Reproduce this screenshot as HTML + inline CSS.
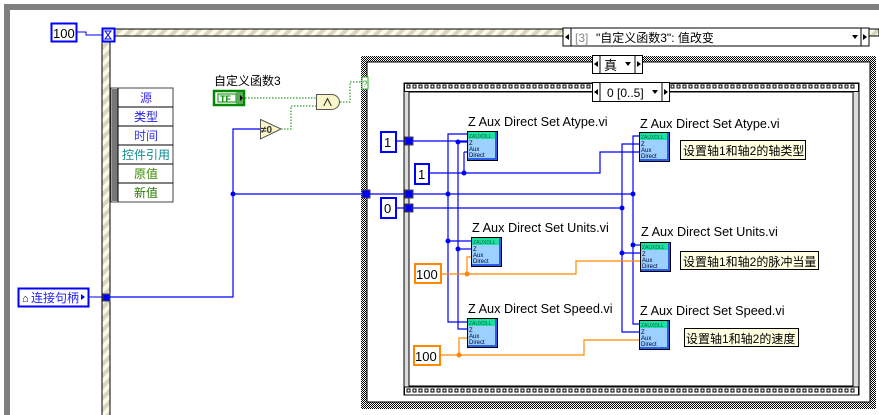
<!DOCTYPE html>
<html><head><meta charset="utf-8"><style>
html,body{margin:0;padding:0;background:#fff;width:879px;height:415px;overflow:hidden}
svg{display:block}
text{font-family:"Liberation Sans","Noto Sans CJK SC",sans-serif}
</style></head><body>
<svg width="879" height="415" viewBox="0 0 879 415" xmlns="http://www.w3.org/2000/svg">
<defs>
<pattern id="chk" width="2" height="2" patternUnits="userSpaceOnUse"><rect width="2" height="2" fill="#fff"/><rect width="1" height="1" fill="#000"/><rect x="1" y="1" width="1" height="1" fill="#000"/></pattern>
<pattern id="hat" width="8" height="8" patternUnits="userSpaceOnUse" patternTransform="rotate(-45)"><rect width="8" height="8" fill="#fbfbe6"/><rect width="8" height="4" fill="#d8d6c0"/></pattern>
<g id="vi">
<rect x="0" y="0" width="31" height="30" fill="#000"/>
<rect x="1" y="1" width="29" height="28" fill="#2a5cf0"/>
<rect x="1" y="1" width="27" height="26" fill="#9cd0ff"/>
<rect x="1" y="1" width="27" height="7" fill="#20e0a0"/>
<text x="2" y="7" font-size="5" fill="#064" font-family="Liberation Mono">ZAUXDLL</text>
<text x="2" y="14" font-size="6" fill="#003" font-family="Liberation Mono">Z</text>
<text x="2" y="20" font-size="6" fill="#003" font-family="Liberation Mono">Aux</text>
<text x="2" y="26" font-size="6" fill="#003" font-family="Liberation Mono">Direct</text>
</g>
<path id="sq" d="M407 85h3v3h-3zM413 85h3v3h-3zM419 85h3v3h-3zM425 85h3v3h-3zM431 85h3v3h-3zM437 85h3v3h-3zM443 85h3v3h-3zM449 85h3v3h-3zM455 85h3v3h-3zM461 85h3v3h-3zM467 85h3v3h-3zM473 85h3v3h-3zM479 85h3v3h-3zM485 85h3v3h-3zM491 85h3v3h-3zM497 85h3v3h-3zM503 85h3v3h-3zM509 85h3v3h-3zM515 85h3v3h-3zM521 85h3v3h-3zM527 85h3v3h-3zM533 85h3v3h-3zM539 85h3v3h-3zM545 85h3v3h-3zM551 85h3v3h-3zM557 85h3v3h-3zM563 85h3v3h-3zM569 85h3v3h-3zM575 85h3v3h-3zM581 85h3v3h-3zM587 85h3v3h-3zM593 85h3v3h-3zM599 85h3v3h-3zM605 85h3v3h-3zM611 85h3v3h-3zM617 85h3v3h-3zM623 85h3v3h-3zM629 85h3v3h-3zM635 85h3v3h-3zM641 85h3v3h-3zM647 85h3v3h-3zM653 85h3v3h-3zM659 85h3v3h-3zM665 85h3v3h-3zM671 85h3v3h-3zM677 85h3v3h-3zM683 85h3v3h-3zM689 85h3v3h-3zM695 85h3v3h-3zM701 85h3v3h-3zM707 85h3v3h-3zM713 85h3v3h-3zM719 85h3v3h-3zM725 85h3v3h-3zM731 85h3v3h-3zM737 85h3v3h-3zM743 85h3v3h-3zM749 85h3v3h-3zM755 85h3v3h-3zM761 85h3v3h-3zM767 85h3v3h-3zM773 85h3v3h-3zM779 85h3v3h-3zM785 85h3v3h-3zM791 85h3v3h-3zM797 85h3v3h-3zM803 85h3v3h-3zM809 85h3v3h-3zM815 85h3v3h-3zM821 85h3v3h-3zM827 85h3v3h-3zM833 85h3v3h-3zM839 85h3v3h-3zM845 85h3v3h-3zM851 85h3v3h-3z"/>
</defs>
<rect x="4" y="4" width="875" height="6" fill="#808080"/>
<rect x="4" y="4" width="6" height="411" fill="#808080"/>
<rect x="102" y="29" width="777" height="7" fill="url(#hat)" stroke="#000" stroke-width="1"/>
<rect x="102" y="29" width="8" height="390" fill="url(#hat)" stroke="#000" stroke-width="1"/>
<rect x="563" y="28" width="306" height="18" fill="#fff" stroke="#000"/>
<line x1="571" y1="28" x2="571" y2="46" stroke="#000"/>
<line x1="861" y1="28" x2="861" y2="46" stroke="#000"/>
<polygon points="565,37 569,34 569,40" fill="#000"/>
<polygon points="863,34 867,37 863,40" fill="#000"/>
<polygon points="852,35 858,35 855,39" fill="#000"/>
<text x="575" y="42" font-size="12" fill="#888">[3]</text>
<text x="596" y="42" font-size="12" fill="#000">"自定义函数3": 值改变</text>
<rect x="51.5" y="23.5" width="25" height="18" fill="#fff" stroke="#00f" stroke-width="2"/>
<text x="53" y="38" font-size="13" fill="#000">100</text>
<polyline points="77,32 86,32 86,35 102,35" fill="none" stroke="#00f"/>
<rect x="102.5" y="28.5" width="12" height="13" fill="#fff" stroke="#00f" stroke-width="2"/>
<path d="M105 31 h6 l-6 8 h6 z" fill="none" stroke="#00f"/>
<rect x="111" y="88" width="62" height="114" fill="#fff" stroke="#444"/>
<rect x="112" y="89" width="6" height="112" fill="#777"/>
<g stroke="#000"><line x1="118" y1="88" x2="118" y2="202"/>
<line x1="118" y1="107" x2="173" y2="107"/><line x1="118" y1="126" x2="173" y2="126"/><line x1="118" y1="145" x2="173" y2="145"/><line x1="118" y1="164" x2="173" y2="164"/><line x1="118" y1="183" x2="173" y2="183"/></g>
<g font-size="12" text-anchor="middle">
<text x="146" y="102" fill="#3a2cf0">源</text>
<text x="146" y="121" fill="#2020e0">类型</text>
<text x="146" y="140" fill="#3030ff">时间</text>
<text x="146" y="159" fill="#108890">控件引用</text>
<text x="146" y="178" fill="#3a8a00">原值</text>
<text x="146" y="197" fill="#2a7a00">新值</text>
</g>
<rect x="18.5" y="288.5" width="70" height="18" fill="#fff" stroke="#00f" stroke-width="2"/>
<text x="22" y="302" font-size="11" fill="#000">⌂</text>
<text x="31" y="302" font-size="12" fill="#22f">连接句柄</text>
<polygon points="81,294 85,297 81,300" fill="#00f"/>
<line x1="89" y1="297" x2="103" y2="297" stroke="#00f"/>
<rect x="103" y="294" width="7" height="7" fill="#00f" stroke="#444"/>
<g stroke="#00f" fill="none" stroke-width="1.2">
<polyline points="110,297 233,297 233,129 260,129"/>
<line x1="233" y1="194" x2="366" y2="194"/>
</g>
<circle cx="233" cy="194" r="2.5" fill="#00f"/>
<text x="214" y="85" font-size="12" fill="#000">自定义函数3</text>
<rect x="214" y="91" width="30" height="14" fill="#fff" stroke="#080" stroke-width="2.5"/>
<rect x="218" y="94" width="18" height="8" fill="none" stroke="#080"/>
<text x="220" y="102" font-size="9" font-weight="bold" fill="#080">TF</text>
<rect x="236" y="92" width="7" height="12" fill="#5a5"/>
<polygon points="240,95 243,98 240,101" fill="#000"/>
<g stroke="#080" fill="none" stroke-dasharray="1.5,1.5">
<line x1="245" y1="98" x2="316" y2="98"/>
<polyline points="281,129 291,129 291,106 316,106"/>
<polyline points="340,102 350,102 350,82 362,82"/>
</g>
<path d="M316.5 94.5 h15 a8 7.5 0 0 1 0 15 h-15 z" fill="#fbf6c8" stroke="#555"/>
<text x="322" y="106" font-size="11" font-weight="bold" fill="#333">∧</text>
<polygon points="260.5,119.5 281,129 260.5,139" fill="#fbf6c8" stroke="#555"/>
<text x="261" y="133" font-size="10" font-weight="bold" fill="#333">≠0</text>
<rect x="361" y="56" width="515" height="353" fill="url(#chk)"/>
<rect x="367" y="62" width="503" height="340" fill="#fff" stroke="#000"/>
<rect x="362" y="77" width="6" height="12" fill="#fff" stroke="#3a3"/>
<text x="362.5" y="87" font-size="9" fill="#3a3">?</text>
<rect x="592.5" y="55.5" width="50" height="18" fill="#fff" stroke="#000"/>
<line x1="600" y1="56" x2="600" y2="73" stroke="#000"/><line x1="635" y1="56" x2="635" y2="73" stroke="#000"/>
<polygon points="594,64 598,61 598,67" fill="#000"/><polygon points="637,61 641,64 637,67" fill="#000"/>
<polygon points="625,62 631,62 628,66" fill="#000"/>
<text x="604" y="70" font-size="13" fill="#000">真</text>
<rect x="362" y="190" width="8" height="8" fill="#00f" stroke="#444"/>
<rect x="404" y="83" width="455" height="312" fill="#ddd" stroke="#000"/>
<rect x="404.5" y="83.5" width="454" height="8" fill="#fff" stroke="#000"/>
<rect x="404.5" y="387" width="454" height="8" fill="#fff" stroke="#000"/>
<use href="#sq" fill="#fff" stroke="#000"/>
<use href="#sq" fill="#fff" stroke="#000" transform="translate(0,304)"/>
<rect x="409" y="92" width="444" height="294" fill="#fff" stroke="#000"/>
<rect x="592.5" y="82.5" width="77" height="19" fill="#fff" stroke="#000"/>
<line x1="600" y1="83" x2="600" y2="101" stroke="#000"/><line x1="662" y1="83" x2="662" y2="101" stroke="#000"/>
<polygon points="594,92 598,89 598,95" fill="#000"/><polygon points="664,89 668,92 664,95" fill="#000"/>
<polygon points="652,90 658,90 655,94" fill="#000"/>
<text x="607" y="97" font-size="12" fill="#000">0 [0..5]</text>
<g font-size="13" fill="#000">
<rect x="381" y="132" width="15" height="20" fill="#fff" stroke="#00f" stroke-width="2"/><text x="384" y="147">1</text>
<rect x="415" y="164" width="14" height="20" fill="#fff" stroke="#00f" stroke-width="2"/><text x="418" y="179">1</text>
<rect x="381" y="198" width="15" height="20" fill="#fff" stroke="#00f" stroke-width="2"/><text x="384" y="213">0</text>
<rect x="415" y="264" width="26" height="19" fill="#fff" stroke="#f80" stroke-width="2"/><text x="416" y="279">100</text>
<rect x="414" y="346" width="26" height="19" fill="#fff" stroke="#f80" stroke-width="2"/><text x="415" y="361">100</text>
</g>
<g stroke="#00f" fill="none" stroke-width="1.2">
<line x1="397" y1="141" x2="467" y2="141"/>
<line x1="397" y1="208" x2="622" y2="208"/>
<line x1="366" y1="194" x2="633" y2="194"/>
<polyline points="429,173 600,173 600,152 639,152"/>
<line x1="464" y1="173" x2="464" y2="152"/><line x1="464" y1="152" x2="467" y2="152"/>
<polyline points="467,134 448,134 448,322 467,322"/>
<polyline points="467,142 458,142 458,329 467,329"/>
<line x1="448" y1="241" x2="471" y2="241"/>
<line x1="458" y1="249" x2="471" y2="249"/>
<polyline points="639,136 633,136 633,324 639,324"/>
<polyline points="639,144 622,144 622,332 639,332"/>
<line x1="633" y1="245" x2="640" y2="245"/>
<line x1="622" y1="253" x2="640" y2="253"/>
</g>
<g fill="#00f">
<rect x="405" y="137" width="8" height="8" stroke="#444"/>
<rect x="405" y="190" width="8" height="8" stroke="#444"/>
<rect x="405" y="204" width="8" height="8" stroke="#444"/>
<circle cx="458" cy="142" r="2.5"/><circle cx="448" cy="194" r="2.5"/><circle cx="464" cy="173" r="2.5"/>
<circle cx="448" cy="241" r="2.5"/><circle cx="458" cy="249" r="2.5"/>
<circle cx="633" cy="194" r="2.5"/><circle cx="622" cy="208" r="2.5"/>
<circle cx="633" cy="245" r="2.5"/><circle cx="622" cy="253" r="2.5"/>
</g>
<g stroke="#f80" fill="none" stroke-width="1.2">
<polyline points="441,274 576,274 576,261 640,261"/>
<polyline points="467,274 467,257 471,257"/>
<polyline points="440,355 584,355 584,340 639,340"/>
<polyline points="459,355 459,338 467,338"/>
</g>
<g fill="#f80"><circle cx="467" cy="274" r="2.5"/><circle cx="459" cy="355" r="2.5"/></g>
<use href="#vi" x="467" y="131"/>
<use href="#vi" x="639" y="132"/>
<use href="#vi" x="471" y="237"/>
<use href="#vi" x="640" y="242"/>
<use href="#vi" x="467" y="318"/>
<use href="#vi" x="639" y="320"/>
<g font-size="12.7" fill="#000">
<text x="468" y="126">Z Aux Direct Set Atype.vi</text>
<text x="640" y="128">Z Aux Direct Set Atype.vi</text>
<text x="472" y="232">Z Aux Direct Set Units.vi</text>
<text x="641" y="236">Z Aux Direct Set Units.vi</text>
<text x="468" y="313">Z Aux Direct Set Speed.vi</text>
<text x="640" y="315">Z Aux Direct Set Speed.vi</text>
</g>
<g font-size="12" fill="#000">
<rect x="680.5" y="140.5" width="125" height="19" fill="#ffffe1" stroke="#000"/><text x="683" y="155">设置轴1和轴2的轴类型</text>
<rect x="680.5" y="251.5" width="138" height="18" fill="#ffffe1" stroke="#000"/><text x="683" y="266">设置轴1和轴2的脉冲当量</text>
<rect x="684.5" y="328.5" width="114" height="18" fill="#ffffe1" stroke="#000"/><text x="686" y="343">设置轴1和轴2的速度</text>
</g>
</svg>
</body></html>
